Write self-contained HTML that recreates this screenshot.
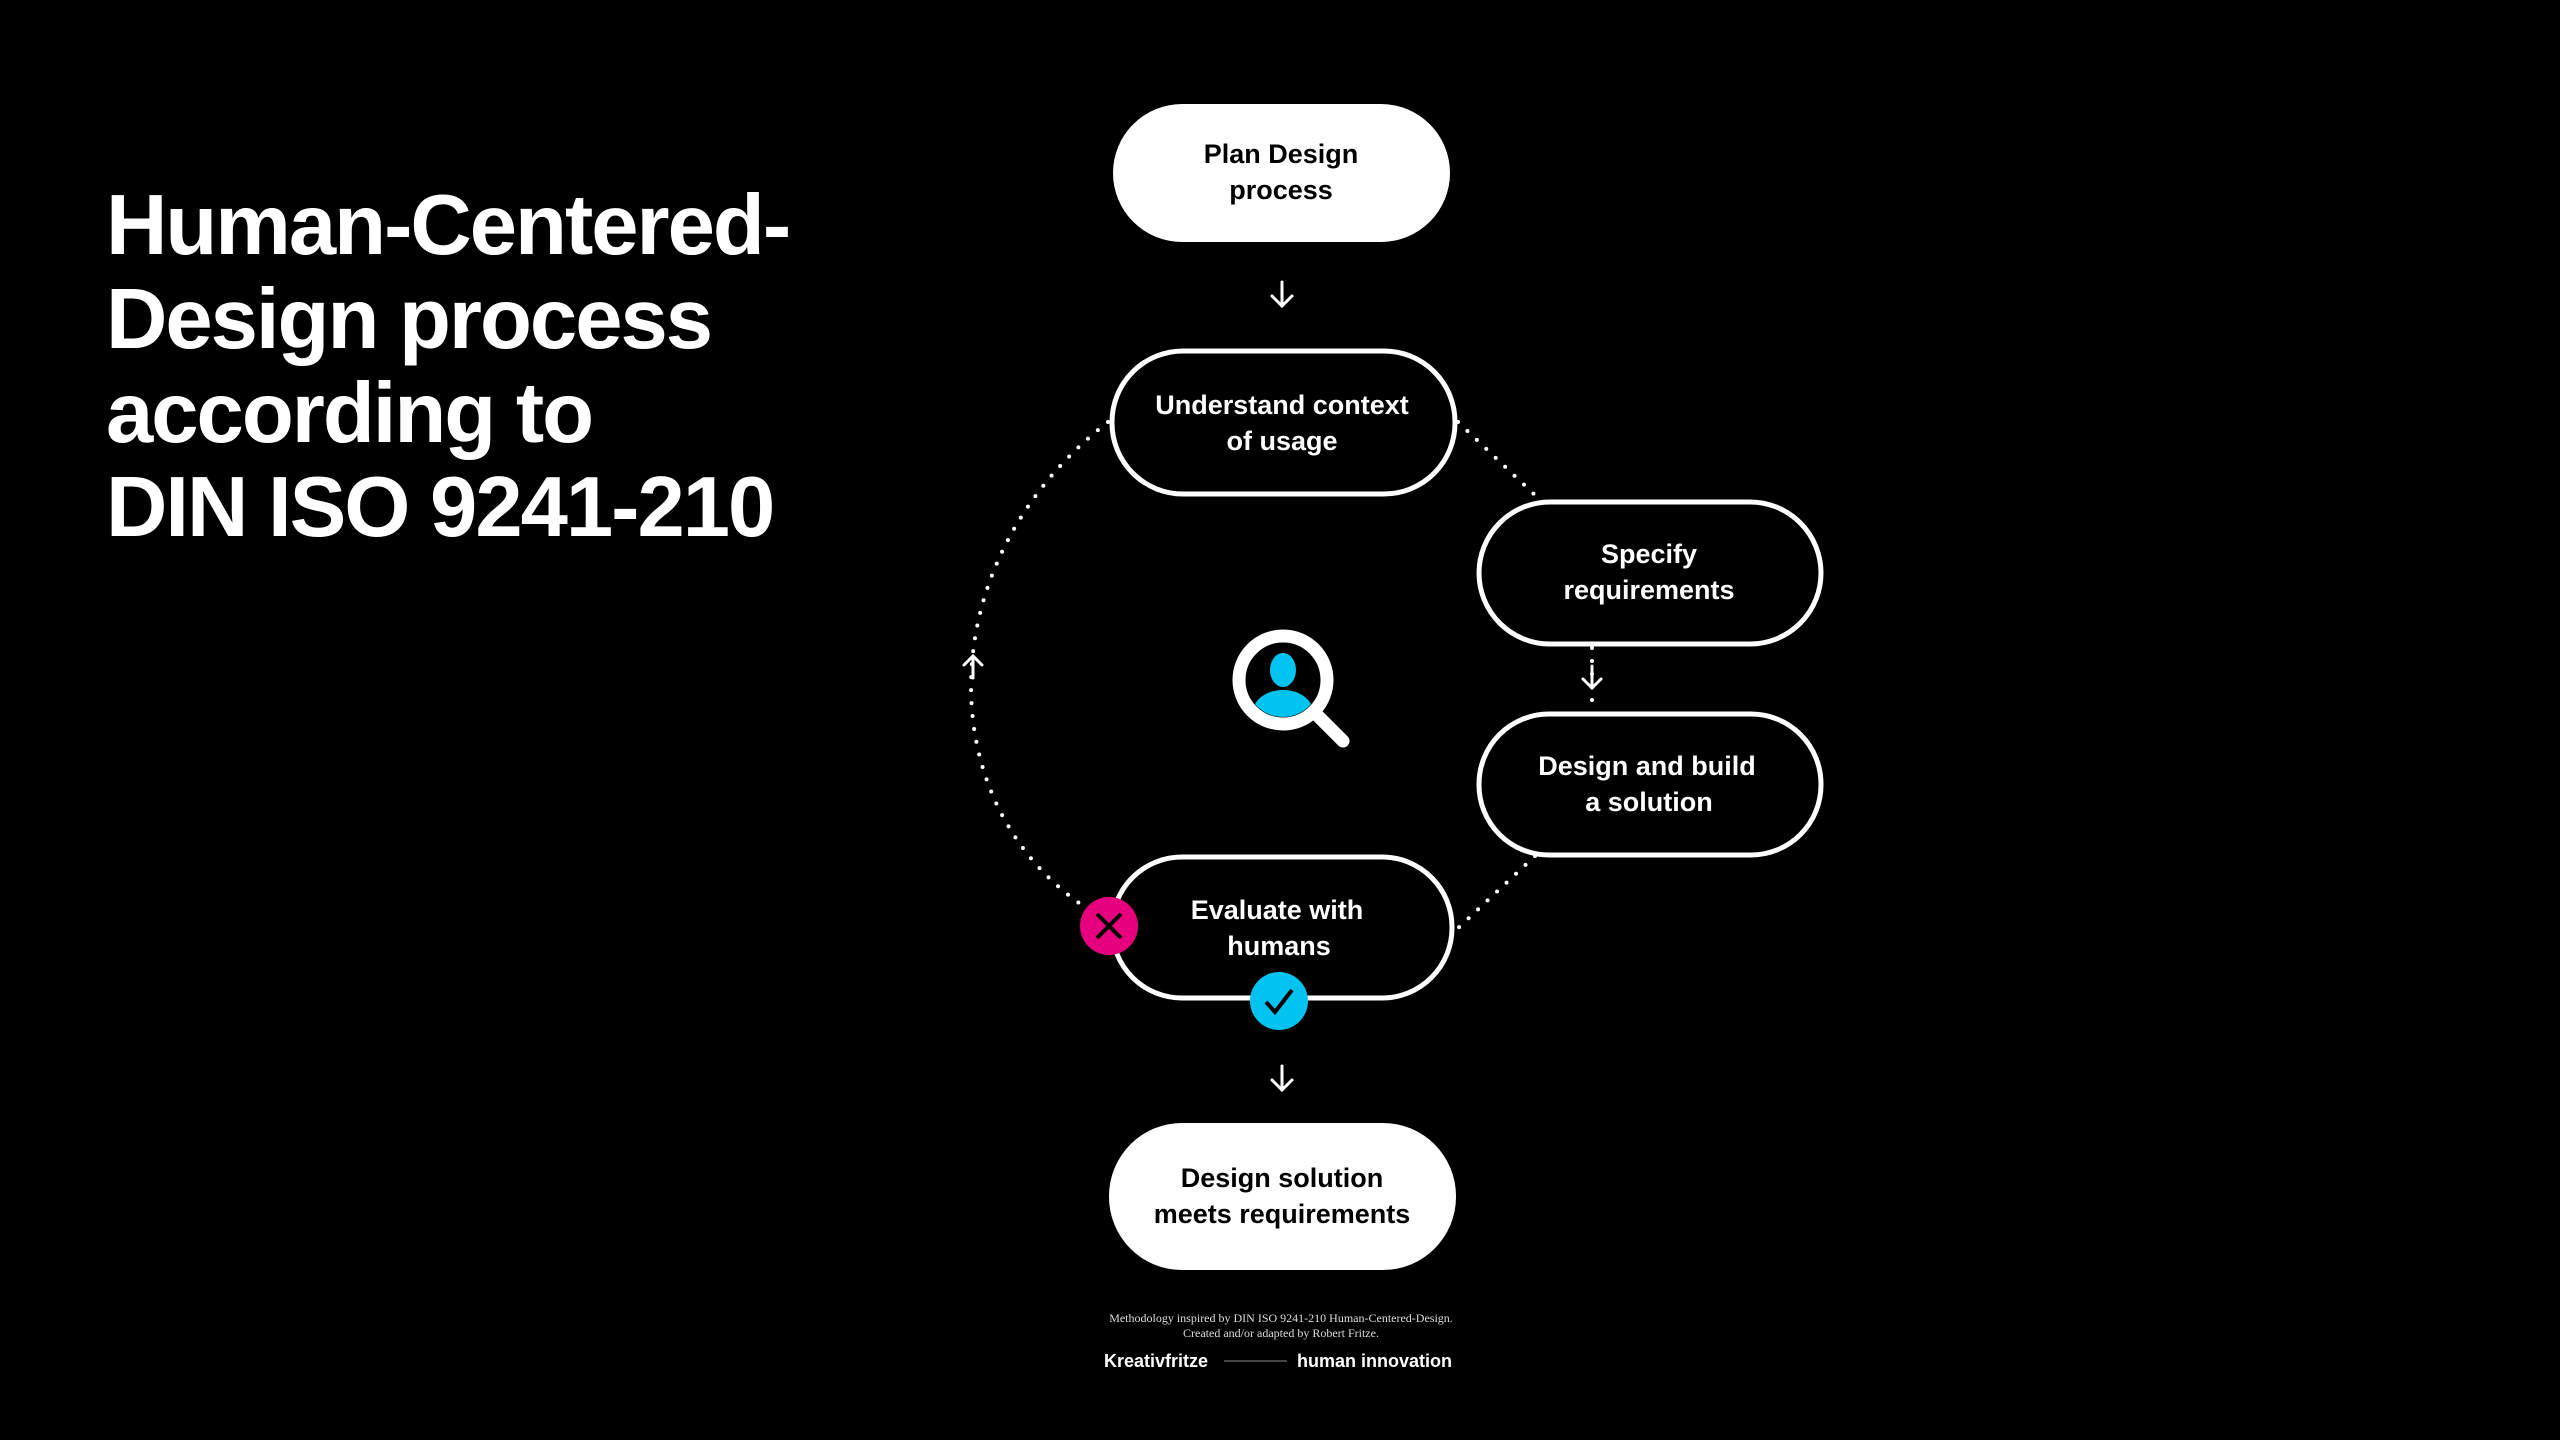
<!DOCTYPE html>
<html><head><meta charset="utf-8"><style>
html,body{margin:0;padding:0;background:#000;}
body{width:2560px;height:1440px;overflow:hidden;position:relative;font-family:"Liberation Sans",sans-serif;}
.t{position:absolute;left:106px;top:179px;color:#fff;font-weight:bold;font-size:85px;line-height:94px;letter-spacing:-2px;}
</style></head><body>
<div class="t">Human-Centered-<br>Design process<br>according to<br>DIN ISO 9241-210</div>
<svg width="2560" height="1440" style="position:absolute;left:0;top:0" font-family="Liberation Sans, sans-serif">
<g fill="none" stroke="#fff" stroke-width="4" stroke-linecap="round" stroke-dasharray="0 13">
<path d="M1108,422 C930,560 930,800 1082,905"/>
<path d="M1458,422 L1538,498"/>
<path d="M1592,648 L1592,710"/>
<path d="M1535,856 L1456,930"/>
</g>
<g fill="none" stroke="#fff" stroke-width="3" stroke-linecap="round">
<path d="M1282,282 V306 M1272,296 L1282,306 L1292,296"/>
<path d="M1282,1066 V1090 M1272,1080 L1282,1090 L1292,1080"/>
<path d="M1592,666 V688 M1583,679 L1592,688 L1601,679"/>
<path d="M973,678 V656 M964,665 L973,656 L982,665"/>
</g>
<rect x="1113" y="104" width="337" height="138" rx="69" fill="#fff"/>
<rect x="1112" y="351" width="343" height="143" rx="71" fill="#000" stroke="#fff" stroke-width="5"/>
<rect x="1479" y="502" width="342" height="142" rx="71" fill="#000" stroke="#fff" stroke-width="5"/>
<rect x="1479" y="714" width="342" height="141" rx="70" fill="#000" stroke="#fff" stroke-width="5"/>
<rect x="1112" y="857" width="340" height="141" rx="70" fill="#000" stroke="#fff" stroke-width="5"/>
<rect x="1109" y="1123" width="347" height="147" rx="73" fill="#fff"/>
<g font-weight="bold" font-size="27" text-anchor="middle">
<text x="1281" y="163" fill="#000">Plan Design</text><text x="1281" y="199" fill="#000">process</text>
<text x="1282" y="414" fill="#fff">Understand context</text><text x="1282" y="450" fill="#fff">of usage</text>
<text x="1649" y="563" fill="#fff">Specify</text><text x="1649" y="599" fill="#fff">requirements</text>
<text x="1647" y="775" fill="#fff">Design and build</text><text x="1649" y="811" fill="#fff">a solution</text>
<text x="1277" y="919" fill="#fff">Evaluate with</text><text x="1279" y="955" fill="#fff">humans</text>
<text x="1282" y="1187" fill="#000">Design solution</text><text x="1282" y="1223" fill="#000">meets requirements</text>
</g>
<circle cx="1109" cy="926" r="29" fill="#e6007e"/>
<path d="M1097,914 L1121,938 M1121,914 L1097,938" stroke="#000" stroke-width="4"/>
<circle cx="1279" cy="1001" r="29" fill="#00c4ef"/>
<path d="M1266,1002 L1275,1012 L1292,990" stroke="#000" stroke-width="4" fill="none"/>
<line x1="1315" y1="713" x2="1343" y2="741" stroke="#fff" stroke-width="13" stroke-linecap="round"/>
<circle cx="1283" cy="680" r="44" fill="#000" stroke="#fff" stroke-width="13"/>
<clipPath id="c"><circle cx="1283" cy="680" r="37"/></clipPath>
<g clip-path="url(#c)" fill="#00c4ef">
<ellipse cx="1283" cy="670" rx="13" ry="17"/>
<ellipse cx="1283" cy="712" rx="30" ry="22"/>
</g>
<g fill="#ddd" font-family="Liberation Serif, serif" font-size="12" text-anchor="middle">
<text x="1281" y="1322">Methodology inspired by DIN ISO 9241-210 Human-Centered-Design.</text>
<text x="1281" y="1337">Created and/or adapted by Robert Fritze.</text>
</g>
<g fill="#fff" font-size="18" font-weight="bold">
<text x="1104" y="1367">Kreativfritze</text>
<text x="1297" y="1367">human innovation</text>
</g>
<line x1="1224" y1="1361" x2="1287" y2="1361" stroke="#888" stroke-width="1"/>
</svg>
</body></html>
